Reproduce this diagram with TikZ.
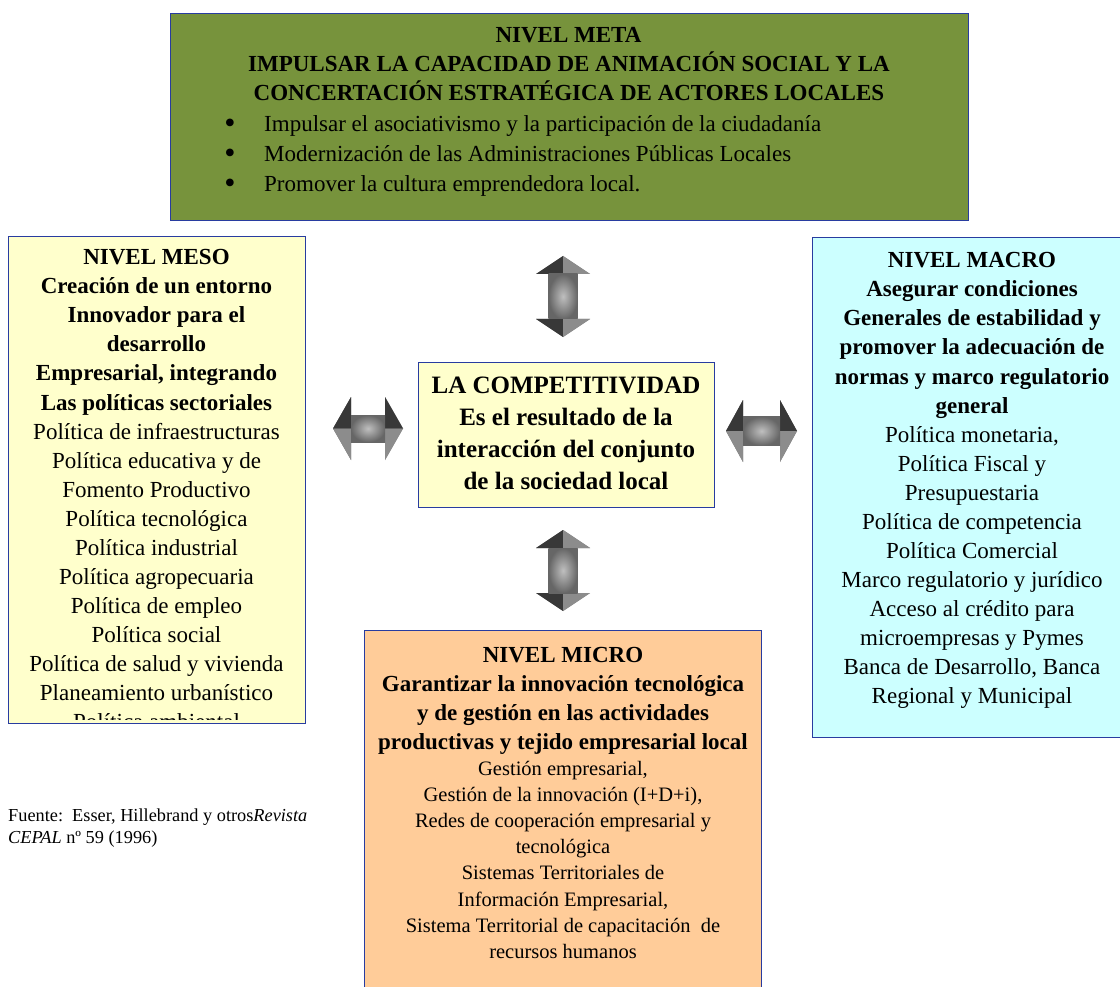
\documentclass[tikz,border=0pt]{standalone}
\usepackage{fontspec}
\setmainfont{Liberation Serif}
\definecolor{metagreen}{RGB}{119,147,60}
\definecolor{mesoyellow}{RGB}{255,255,204}
\definecolor{macrocyan}{RGB}{204,255,255}
\definecolor{microorange}{RGB}{255,204,153}
\definecolor{boxblue}{RGB}{40,60,160}
\tikzset{
  box/.style={draw=boxblue, line width=1.3pt, inner sep=0pt, anchor=north west},
  txt/.style={anchor=base, inner sep=0pt, font=\fontsize{23}{27}\selectfont},
  btxt/.style={anchor=base, inner sep=0pt, font=\fontsize{23}{27}\selectfont\bfseries},
  ctxt/.style={anchor=base, inner sep=0pt, font=\fontsize{25}{30}\selectfont\bfseries},
  mtxt/.style={anchor=base, inner sep=0pt, font=\fontsize{20.5}{25}\selectfont},
  bultxt/.style={anchor=base, inner sep=0pt, font=\fontsize{32}{32}\selectfont},
  srctxt/.style={anchor=base west, inner sep=0pt, font=\fontsize{18.3}{21}\selectfont},
}
\newcommand{\bevarrow}[4]{% L, h (head length), H (head half), S (shaft half)
  \fill[black!55] (-#1,0) -- (-#1+#2,-#3) -- (-#1+#2,-#4) -- (#1-#2,-#4) -- (#1-#2,-#3) -- (#1,0)
     -- (#1-#2,#3) -- (#1-#2,#4) -- (-#1+#2,#4) -- (-#1+#2,#3) -- cycle;
  \fill[black!78] (-#1,0) -- (-#1+#2,-#3) -- (-#1+#2,0) -- cycle;
  \fill[black!78] (#1,0) -- (#1-#2,-#3) -- (#1-#2,0) -- cycle;
  \fill[black!45] (-#1,0) -- (-#1+#2,#3) -- (-#1+#2,0) -- cycle;
  \fill[black!45] (#1,0) -- (#1-#2,#3) -- (#1-#2,0) -- cycle;
  \shade[inner color=black!25, outer color=black!60] (-#1+#2,-#4) rectangle (#1-#2,#4);
}
\begin{document}
\begin{tikzpicture}[x=1pt,y=-1pt]
\useasboundingbox (0,0) rectangle (1120,987);

% boxes
\node[box, fill=metagreen, minimum width=798pt, minimum height=207pt] (meta) at (170,13) {};
\node[box, fill=mesoyellow, minimum width=297pt, minimum height=487pt] (meso) at (8,236) {};
\node[box, fill=mesoyellow, minimum width=296pt, minimum height=145pt] (comp) at (418,362) {};
\node[box, fill=macrocyan, minimum width=312pt, minimum height=500pt] (macro) at (812,237) {};
\node[box, fill=microorange, minimum width=397pt, minimum height=362pt] (micro) at (364,630) {};

% meta text
\node[btxt] (meta-t1) at (568.5,43) {NIVEL META};
\node[btxt] (meta-t2) at (569,72) {IMPULSAR LA CAPACIDAD DE ANIMACIÓN SOCIAL Y LA};
\node[btxt] (meta-t3) at (569,101) {CONCERTACIÓN ESTRATÉGICA DE ACTORES LOCALES};
\foreach \t [count=\i] in {Impulsar el asociativismo y la participación de la ciudadanía,
    Modernización de las Administraciones Públicas Locales,
    Promover la cultura emprendedora local.}{
  \node[bultxt] (meta-bul\i) at (230,{134+30*(\i-1)}) {•};
  \node[txt, anchor=base west] (meta-it\i) at (264,{132+30*(\i-1)}) {\t};
}

% meso text (clipped)
\begin{scope}
\clip (8,236) rectangle (305,719);
\foreach \t [count=\i] in {NIVEL MESO, Creación de un entorno, Innovador para el, desarrollo,
    {Empresarial, integrando}, Las políticas sectoriales}{
  \node[btxt] (meso-b\i) at (156.5,{265+29*(\i-1)}) {\t};
}
\foreach \t [count=\i] in {Política de infraestructuras, Política educativa y de, Fomento Productivo,
    Política tecnológica, Política industrial, Política agropecuaria, Política de empleo,
    Política social, Política de salud y vivienda, Planeamiento urbanístico, Política ambiental}{
  \node[txt] (meso-r\i) at (156.5,{265+29*(\i+5)}) {\t};
}
\end{scope}

% center text
\foreach \t [count=\i] in {LA COMPETITIVIDAD, Es el resultado de la, interacción del conjunto, de la sociedad local}{
  \node[ctxt] (comp-\i) at (566,{393+32.3*(\i-1)}) {\t};
}

% macro text
\foreach \t [count=\i] in {NIVEL MACRO, Asegurar condiciones, Generales de estabilidad y,
    promover la adecuación de, normas y marco regulatorio, general}{
  \node[btxt] (macro-b\i) at (972,{268+29*(\i-1)}) {\t};
}
\foreach \t [count=\i] in {{Política monetaria,}, Política Fiscal y, Presupuestaria, Política de competencia,
    Política Comercial, Marco regulatorio y jurídico, Acceso al crédito para, microempresas y Pymes,
    {Banca de Desarrollo, Banca}, Regional y Municipal}{
  \node[txt] (macro-r\i) at (972,{268+29*(\i+5)}) {\t};
}

% micro text
\foreach \t [count=\i] in {NIVEL MICRO, Garantizar la innovación tecnológica, y de gestión en las actividades,
    productivas y tejido empresarial local}{
  \node[btxt] (micro-b\i) at (563,{662+29*(\i-1)}) {\t};
}
\foreach \t [count=\i] in {{Gestión empresarial,}, {Gestión de la innovación (I+D+i),},
    Redes de cooperación empresarial y, tecnológica, Sistemas Territoriales de,
    {Información Empresarial,}, Sistema Territorial de capacitación\ \ de, recursos humanos}{
  \node[mtxt] (micro-r\i) at (563,{775+26.2*(\i-1)}) {\t};
}

% source
\node[srctxt] (src1) at (8,821) {Fuente:\ \ Esser, Hillebrand y otros\textit{Revista}};
\node[srctxt] (src2) at (8,843) {\textit{CEPAL} nº 59 (1996)};

% arrows
\begin{scope}[shift={(563,296.5)}, rotate=90]
  \bevarrow{40.5}{18}{27}{14.5}
\end{scope}
\begin{scope}[shift={(563,570.5)}, rotate=90]
  \bevarrow{40.5}{18}{27}{14.5}
\end{scope}
\begin{scope}[shift={(368,428.5)}]
  \bevarrow{35}{18}{31.5}{13.5}
\end{scope}
\begin{scope}[shift={(761.5,431)}]
  \bevarrow{35.5}{17}{31}{14.5}
\end{scope}
\end{tikzpicture}
\end{document}
